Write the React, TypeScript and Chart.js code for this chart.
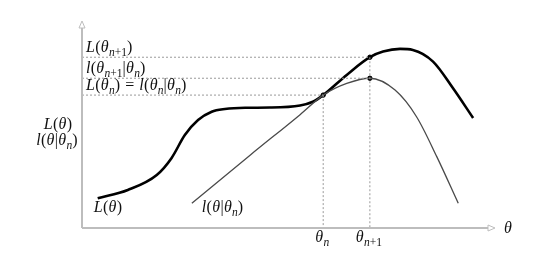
import React, { useEffect, useRef } from "react";
import { Chart, registerables } from "chart.js";

Chart.register(...registerables);

// Upper curve L(θ)
const thetaL = [0.38, 1.11, 1.81, 2.17, 2.49, 2.81, 3.14, 3.46, 3.95, 4.55, 5.28, 5.59, 5.84, 6.41, 6.97, 7.29, 7.7, 8.01, 8.5, 8.98, 9.47];
const valueL = [1.43, 1.83, 2.55, 3.37, 4.47, 5.19, 5.59, 5.72, 5.78, 5.79, 5.89, 6.07, 6.39, 7.36, 8.21, 8.48, 8.61, 8.56, 8.0, 6.73, 5.29];
// Lower bound l(θ|θn)
const thetaLow = [2.66, 4.07, 5.28, 5.84, 6.41, 6.97, 7.58, 8.1, 8.59, 9.11];
const valueLow = [1.19, 3.5, 5.45, 6.39, 6.95, 7.2, 6.63, 5.35, 3.43, 1.19];

// Key values
const thetaN = 5.84;
const thetaN1 = 6.97;
const levelLn = 6.39; // L(θn) = l(θn|θn)
const levelLowN1 = 7.2; // l(θn+1|θn)
const levelLn1 = 8.21; // L(θn+1)

// Labels (markup: _{...} = subscript)
const levelLabels = ["L(θ_{n+1})", "l(θ_{n+1}|θ_{n})", "L(θ_{n}) = l(θ_{n}|θ_{n})"];
const tickLabels = ["θ_{n}", "θ_{n+1}"];
const yAxisLabels = ["L(θ)", "l(θ|θ_{n})"];
const curveLabels = ["L(θ)", "l(θ|θ_{n})"];
const xAxisLabel = "θ";

const FONT = '"Liberation Serif", "DejaVu Serif", serif';

type Piece = { t: string; sub: boolean };
function parse(s: string): Piece[] {
  const out: Piece[] = [];
  let i = 0;
  while (i < s.length) {
    if (s[i] === "_" && s[i + 1] === "{") {
      const end = s.indexOf("}", i);
      out.push({ t: s.slice(i + 2, end), sub: true });
      i = end + 1;
    } else {
      let j = i;
      while (j < s.length && !(s[j] === "_" && s[j + 1] === "{")) j++;
      out.push({ t: s.slice(i, j), sub: false });
      i = j;
    }
  }
  return out;
}
const isItalic = (c: string) => /[A-Za-zθ]/.test(c);

function richRun(ctx: CanvasRenderingContext2D, s: string, x: number, y: number, size: number, align: "left" | "center") {
  const pieces = parse(s);
  let w = 0;
  const items: { c: string; font: string; dy: number; w: number }[] = [];
  for (const p of pieces) {
    const sz = p.sub ? size * 0.72 : size;
    const dy = p.sub ? size * 0.22 : 0;
    for (const c of p.t) {
      if (c === " ") {
        items.push({ c, font: "", dy, w: size * 0.3 });
        w += size * 0.3;
        continue;
      }
      const font = `${isItalic(c) ? "italic " : ""}${sz}px ${FONT}`;
      ctx.font = font;
      const cw = ctx.measureText(c).width + (p.sub ? 0 : 0.3);
      items.push({ c, font, dy, w: cw });
      w += cw;
    }
  }
  let cx = align === "center" ? x - w / 2 : x;
  ctx.textBaseline = "alphabetic";
  ctx.textAlign = "left";
  for (const it of items) {
    if (it.font) {
      ctx.font = it.font;
      ctx.fillText(it.c, cx, y + it.dy);
    }
    cx += it.w;
  }
  return w;
}

const annotations = {
  id: "annotations",
  afterDraw(chart: any) {
    const ctx: CanvasRenderingContext2D = chart.ctx;
    const xs = chart.scales.x;
    const ys = chart.scales.y;
    const x0 = xs.getPixelForValue(0);
    const y0 = ys.getPixelForValue(0);
    const xEnd = xs.getPixelForValue(10);
    const yTop = ys.getPixelForValue(10);
    ctx.save();
    // axes
    ctx.strokeStyle = "#bdbdbd";
    ctx.lineWidth = 2;
    ctx.beginPath();
    ctx.moveTo(x0, y0);
    ctx.lineTo(xEnd - 6, y0);
    ctx.moveTo(x0, y0);
    ctx.lineTo(x0, yTop + 8);
    ctx.stroke();
    ctx.lineWidth = 1;
    ctx.fillStyle = "#fff";
    ctx.beginPath();
    ctx.moveTo(xEnd, y0);
    ctx.lineTo(xEnd - 7, y0 - 3);
    ctx.lineTo(xEnd - 7, y0 + 3);
    ctx.closePath();
    ctx.fill();
    ctx.stroke();
    ctx.beginPath();
    ctx.moveTo(x0, yTop + 1);
    ctx.lineTo(x0 - 3, yTop + 8);
    ctx.lineTo(x0 + 3, yTop + 8);
    ctx.closePath();
    ctx.fill();
    ctx.stroke();

    ctx.fillStyle = "#111";
    const size = 16;
    const levels = [levelLn1, levelLowN1, levelLn];
    levels.forEach((lv, i) => {
      richRun(ctx, levelLabels[i], x0 + 4, ys.getPixelForValue(lv) - 5, size, "left");
    });
    const ticks = [thetaN, thetaN1];
    ticks.forEach((t, i) => {
      richRun(ctx, tickLabels[i], xs.getPixelForValue(t) - 1, y0 + 14, size, "center");
    });
    richRun(ctx, yAxisLabels[0], x0 - 24, y0 - 99, size, "center");
    richRun(ctx, yAxisLabels[1], x0 - 25, y0 - 83, size, "center");
    richRun(ctx, curveLabels[0], xs.getPixelForValue(thetaL[0]) - 4, y0 - 16, size, "left");
    richRun(ctx, curveLabels[1], xs.getPixelForValue(thetaLow[0]) + 10, y0 - 16, size, "left");
    richRun(ctx, xAxisLabel, xEnd + 9, y0 + 5, size, "left");
    ctx.restore();
  },
};

export default function App() {
  const ref = useRef<HTMLCanvasElement>(null);
  useEffect(() => {
    if (!ref.current) return;
    const guide = (pts: { x: number; y: number }[]) => ({
      data: pts,
      showLine: true,
      borderColor: "#9a9a9a",
      borderWidth: 1,
      borderDash: [2, 2],
      pointRadius: 0,
      fill: false,
      clip: false as any,
    });
    const chart = new Chart(ref.current, {
      type: "scatter",
      data: {
        datasets: [
          guide([{ x: 0, y: levelLn1 }, { x: thetaN1, y: levelLn1 }]),
          guide([{ x: 0, y: levelLowN1 }, { x: thetaN1, y: levelLowN1 }]),
          guide([{ x: 0, y: levelLn }, { x: thetaN, y: levelLn }]),
          guide([{ x: thetaN, y: levelLn }, { x: thetaN, y: 0 }]),
          guide([{ x: thetaN1, y: levelLn1 }, { x: thetaN1, y: 0 }]),
          {
            data: thetaLow.map((x, i) => ({ x, y: valueLow[i] })),
            showLine: true,
            borderColor: "#4a4a4a",
            borderWidth: 1.3,
            pointRadius: 0,
            cubicInterpolationMode: "monotone",
            clip: false as any,
          },
          {
            data: thetaL.map((x, i) => ({ x, y: valueL[i] })),
            showLine: true,
            borderColor: "#000",
            borderWidth: 2.6,
            pointRadius: 0,
            cubicInterpolationMode: "monotone",
            clip: false as any,
          },
          {
            data: [
              { x: thetaN, y: levelLn },
              { x: thetaN1, y: levelLn1 },
              { x: thetaN1, y: levelLowN1 },
            ],
            showLine: false,
            pointRadius: 2.2,
            pointBackgroundColor: "#000",
            pointBorderColor: "#000",
            pointBorderWidth: 1,
            clip: false as any,
          },
        ],
      },
      options: {
        responsive: false,
        animation: false,
        devicePixelRatio: 1,
        layout: { padding: { left: 82, top: 20, right: 63, bottom: 27 } },
        plugins: { legend: { display: false }, tooltip: { enabled: false } },
        scales: {
          x: { type: "linear", min: 0, max: 10, display: false },
          y: { type: "linear", min: 0, max: 10, display: false },
        },
      },
      plugins: [annotations],
    });
    return () => chart.destroy();
  }, []);
  return (
    <div style={{ position: "fixed", left: 0, top: 0, width: 558, height: 255, background: "#fff" }}>
      <canvas ref={ref} width={558} height={255} style={{ width: 558, height: 255 }} />
    </div>
  );
}
